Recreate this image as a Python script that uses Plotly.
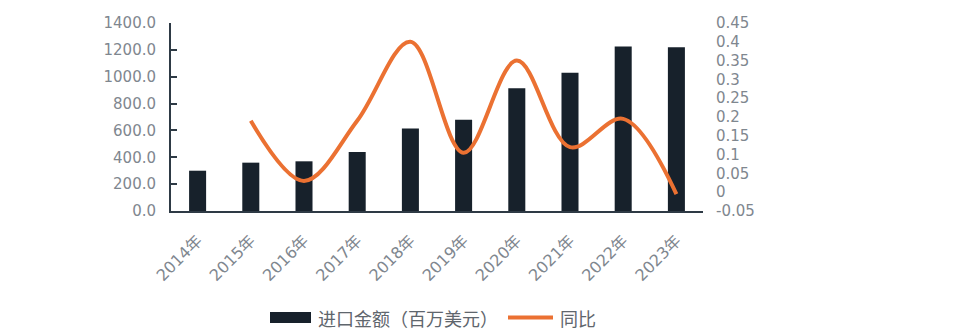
import plotly.graph_objects as go

# Annual import value (million USD) and year-on-year growth
years = ["2014年", "2015年", "2016年", "2017年", "2018年",
         "2019年", "2020年", "2021年", "2022年", "2023年"]
import_value = [300, 360, 370, 440, 615, 680, 915, 1030, 1225, 1220]
yoy_years = years[1:]
yoy_growth = [0.19, 0.03, 0.19, 0.40, 0.105, 0.35, 0.12, 0.195, -0.005]

left_ticks = [0, 200, 400, 600, 800, 1000, 1200, 1400]
right_ticks = [-0.05, 0, 0.05, 0.1, 0.15, 0.2, 0.25, 0.3, 0.35, 0.4, 0.45]
right_tick_text = ["-0.05", "0", "0.05", "0.1", "0.15", "0.2", "0.25",
                   "0.3", "0.35", "0.4", "0.45"]

W, H = 956, 336
L, R, T, B = 171, 253, 23, 125
NUM_FONT = "DejaVu Sans, Noto Sans CJK SC"
CJK_FONT = "Noto Sans CJK SC"
BAR_COLOR = "#17212B"
LINE_COLOR = "#EB7132"
TICK_COLOR = "#7F878F"
AXIS_COLOR = "#2E3A45"


def px_x(px):
    return (px - L) / (W - L - R)


def px_y(py):
    return (H - B - py) / (H - B - T)


fig = go.Figure()
fig.add_trace(go.Bar(
    x=years, y=import_value, name="进口金额（百万美元）",
    marker=dict(color=BAR_COLOR, line=dict(width=0)),
    yaxis="y",
))
fig.add_trace(go.Scatter(
    x=yoy_years, y=yoy_growth, name="同比", mode="lines",
    line=dict(color=LINE_COLOR, width=4, shape="spline", smoothing=1),
    yaxis="y2",
))

# Custom legend row below the plot
legend_shapes = [
    dict(type="rect", xref="paper", yref="paper",
         x0=px_x(270), x1=px_x(311), y0=px_y(323), y1=px_y(312),
         fillcolor=BAR_COLOR, line=dict(width=0)),
    dict(type="line", xref="paper", yref="paper",
         x0=px_x(508), x1=px_x(553), y0=px_y(317.5), y1=px_y(317.5),
         line=dict(color=LINE_COLOR, width=4)),
]
legend_labels = [
    dict(text="进口金额（百万美元）", x=px_x(316), y=px_y(317.5)),
    dict(text="同比", x=px_x(558), y=px_y(317.5)),
]
annotations = [
    dict(xref="paper", yref="paper", xanchor="left", yanchor="middle",
         showarrow=False, font=dict(family=CJK_FONT, size=18, color="#5F666D"),
         **lab)
    for lab in legend_labels
]

fig.update_layout(
    width=W, height=H,
    margin=dict(l=L, r=R, t=T, b=B, pad=0),
    paper_bgcolor="white", plot_bgcolor="white",
    showlegend=False,
    bargap=0.68,
    font=dict(family=NUM_FONT, color=TICK_COLOR),
    shapes=legend_shapes,
    annotations=annotations,
    xaxis=dict(
        type="category", tickangle=-45,
        tickfont=dict(family=NUM_FONT, size=16, color=TICK_COLOR),
        showline=True, linecolor=AXIS_COLOR, linewidth=2,
        ticks="", showgrid=False, zeroline=False,
        ticklabelstandoff=12,
    ),
    yaxis=dict(
        range=[0, 1400], tickvals=left_ticks, tickformat=".1f",
        tickfont=dict(family=NUM_FONT, size=15, color=TICK_COLOR),
        showline=True, linecolor=AXIS_COLOR, linewidth=2,
        ticks="inside", ticklen=6, tickwidth=2, tickcolor=AXIS_COLOR,
        showgrid=False, zeroline=False, ticklabelstandoff=10,
    ),
    yaxis2=dict(
        range=[-0.05, 0.45], tickvals=right_ticks, ticktext=right_tick_text,
        overlaying="y", side="right",
        tickfont=dict(family=NUM_FONT, size=15, color=TICK_COLOR),
        showline=False, ticks="", showgrid=False, zeroline=False,
        ticklabelstandoff=12,
    ),
)

fig.write_html("out.html")
